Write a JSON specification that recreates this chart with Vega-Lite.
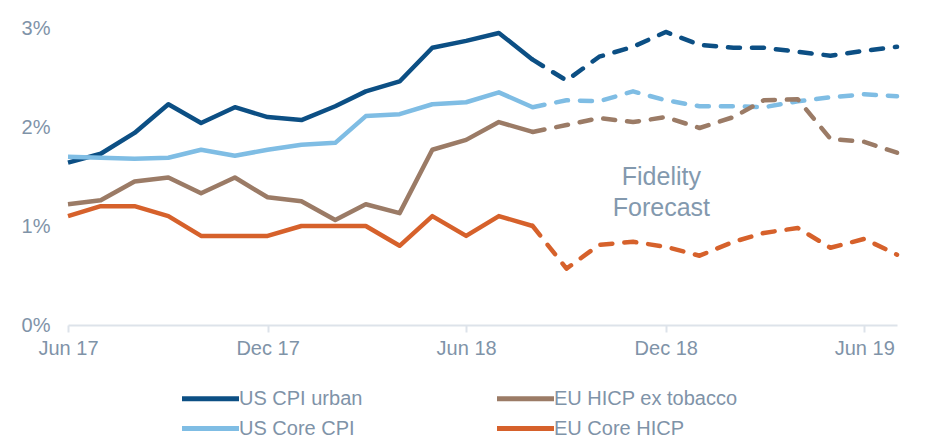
{
  "$schema": "https://vega.github.io/schema/vega-lite/v6.json",
  "width": 829,
  "height": 297,
  "autosize": {"type": "none"},
  "padding": {"left": 68, "top": 28, "right": 36, "bottom": 111},
  "background": "white",
  "config": {
    "view": {"stroke": null},
    "font": "Liberation Sans",
    "legend": {"orient": "none", "legendX": 125, "legendY": 353}
  },
  "data": {
    "values": [
      {"d": "2017/06/01", "s": "US CPI urban", "v": 1.64, "k": "A"},
      {"d": "2017/07/01", "s": "US CPI urban", "v": 1.73, "k": "A"},
      {"d": "2017/08/01", "s": "US CPI urban", "v": 1.94, "k": "A"},
      {"d": "2017/09/01", "s": "US CPI urban", "v": 2.23, "k": "A"},
      {"d": "2017/10/01", "s": "US CPI urban", "v": 2.04, "k": "A"},
      {"d": "2017/11/01", "s": "US CPI urban", "v": 2.2, "k": "A"},
      {"d": "2017/12/01", "s": "US CPI urban", "v": 2.1, "k": "A"},
      {"d": "2018/01/01", "s": "US CPI urban", "v": 2.07, "k": "A"},
      {"d": "2018/02/01", "s": "US CPI urban", "v": 2.21, "k": "A"},
      {"d": "2018/03/01", "s": "US CPI urban", "v": 2.36, "k": "A"},
      {"d": "2018/04/01", "s": "US CPI urban", "v": 2.46, "k": "A"},
      {"d": "2018/05/01", "s": "US CPI urban", "v": 2.8, "k": "A"},
      {"d": "2018/06/01", "s": "US CPI urban", "v": 2.87, "k": "A"},
      {"d": "2018/07/01", "s": "US CPI urban", "v": 2.95, "k": "A"},
      {"d": "2018/08/01", "s": "US CPI urban", "v": 2.68, "k": "A"},
      {"d": "2018/08/01", "s": "US CPI urban", "v": 2.68, "k": "F"},
      {"d": "2018/09/01", "s": "US CPI urban", "v": 2.47, "k": "F"},
      {"d": "2018/10/01", "s": "US CPI urban", "v": 2.71, "k": "F"},
      {"d": "2018/11/01", "s": "US CPI urban", "v": 2.81, "k": "F"},
      {"d": "2018/12/01", "s": "US CPI urban", "v": 2.96, "k": "F"},
      {"d": "2019/01/01", "s": "US CPI urban", "v": 2.83, "k": "F"},
      {"d": "2019/02/01", "s": "US CPI urban", "v": 2.8, "k": "F"},
      {"d": "2019/03/01", "s": "US CPI urban", "v": 2.8, "k": "F"},
      {"d": "2019/04/01", "s": "US CPI urban", "v": 2.76, "k": "F"},
      {"d": "2019/05/01", "s": "US CPI urban", "v": 2.72, "k": "F"},
      {"d": "2019/06/01", "s": "US CPI urban", "v": 2.77, "k": "F"},
      {"d": "2019/07/01", "s": "US CPI urban", "v": 2.81, "k": "F"},

      {"d": "2017/06/01", "s": "US Core CPI", "v": 1.7, "k": "A"},
      {"d": "2017/07/01", "s": "US Core CPI", "v": 1.69, "k": "A"},
      {"d": "2017/08/01", "s": "US Core CPI", "v": 1.68, "k": "A"},
      {"d": "2017/09/01", "s": "US Core CPI", "v": 1.69, "k": "A"},
      {"d": "2017/10/01", "s": "US Core CPI", "v": 1.77, "k": "A"},
      {"d": "2017/11/01", "s": "US Core CPI", "v": 1.71, "k": "A"},
      {"d": "2017/12/01", "s": "US Core CPI", "v": 1.77, "k": "A"},
      {"d": "2018/01/01", "s": "US Core CPI", "v": 1.82, "k": "A"},
      {"d": "2018/02/01", "s": "US Core CPI", "v": 1.84, "k": "A"},
      {"d": "2018/03/01", "s": "US Core CPI", "v": 2.11, "k": "A"},
      {"d": "2018/04/01", "s": "US Core CPI", "v": 2.13, "k": "A"},
      {"d": "2018/05/01", "s": "US Core CPI", "v": 2.23, "k": "A"},
      {"d": "2018/06/01", "s": "US Core CPI", "v": 2.25, "k": "A"},
      {"d": "2018/07/01", "s": "US Core CPI", "v": 2.35, "k": "A"},
      {"d": "2018/08/01", "s": "US Core CPI", "v": 2.2, "k": "A"},
      {"d": "2018/08/01", "s": "US Core CPI", "v": 2.2, "k": "F"},
      {"d": "2018/09/01", "s": "US Core CPI", "v": 2.27, "k": "F"},
      {"d": "2018/10/01", "s": "US Core CPI", "v": 2.26, "k": "F"},
      {"d": "2018/11/01", "s": "US Core CPI", "v": 2.36, "k": "F"},
      {"d": "2018/12/01", "s": "US Core CPI", "v": 2.27, "k": "F"},
      {"d": "2019/01/01", "s": "US Core CPI", "v": 2.21, "k": "F"},
      {"d": "2019/02/01", "s": "US Core CPI", "v": 2.21, "k": "F"},
      {"d": "2019/03/01", "s": "US Core CPI", "v": 2.2, "k": "F"},
      {"d": "2019/04/01", "s": "US Core CPI", "v": 2.26, "k": "F"},
      {"d": "2019/05/01", "s": "US Core CPI", "v": 2.3, "k": "F"},
      {"d": "2019/06/01", "s": "US Core CPI", "v": 2.33, "k": "F"},
      {"d": "2019/07/01", "s": "US Core CPI", "v": 2.31, "k": "F"},

      {"d": "2017/06/01", "s": "EU HICP ex tobacco", "v": 1.22, "k": "A"},
      {"d": "2017/07/01", "s": "EU HICP ex tobacco", "v": 1.26, "k": "A"},
      {"d": "2017/08/01", "s": "EU HICP ex tobacco", "v": 1.45, "k": "A"},
      {"d": "2017/09/01", "s": "EU HICP ex tobacco", "v": 1.49, "k": "A"},
      {"d": "2017/10/01", "s": "EU HICP ex tobacco", "v": 1.33, "k": "A"},
      {"d": "2017/11/01", "s": "EU HICP ex tobacco", "v": 1.49, "k": "A"},
      {"d": "2017/12/01", "s": "EU HICP ex tobacco", "v": 1.29, "k": "A"},
      {"d": "2018/01/01", "s": "EU HICP ex tobacco", "v": 1.25, "k": "A"},
      {"d": "2018/02/01", "s": "EU HICP ex tobacco", "v": 1.06, "k": "A"},
      {"d": "2018/03/01", "s": "EU HICP ex tobacco", "v": 1.22, "k": "A"},
      {"d": "2018/04/01", "s": "EU HICP ex tobacco", "v": 1.13, "k": "A"},
      {"d": "2018/05/01", "s": "EU HICP ex tobacco", "v": 1.77, "k": "A"},
      {"d": "2018/06/01", "s": "EU HICP ex tobacco", "v": 1.87, "k": "A"},
      {"d": "2018/07/01", "s": "EU HICP ex tobacco", "v": 2.05, "k": "A"},
      {"d": "2018/08/01", "s": "EU HICP ex tobacco", "v": 1.95, "k": "A"},
      {"d": "2018/08/01", "s": "EU HICP ex tobacco", "v": 1.95, "k": "F"},
      {"d": "2018/09/01", "s": "EU HICP ex tobacco", "v": 2.02, "k": "F"},
      {"d": "2018/10/01", "s": "EU HICP ex tobacco", "v": 2.09, "k": "F"},
      {"d": "2018/11/01", "s": "EU HICP ex tobacco", "v": 2.05, "k": "F"},
      {"d": "2018/12/01", "s": "EU HICP ex tobacco", "v": 2.1, "k": "F"},
      {"d": "2019/01/01", "s": "EU HICP ex tobacco", "v": 1.99, "k": "F"},
      {"d": "2019/02/01", "s": "EU HICP ex tobacco", "v": 2.1, "k": "F"},
      {"d": "2019/03/01", "s": "EU HICP ex tobacco", "v": 2.27, "k": "F"},
      {"d": "2019/04/01", "s": "EU HICP ex tobacco", "v": 2.28, "k": "F"},
      {"d": "2019/05/01", "s": "EU HICP ex tobacco", "v": 1.88, "k": "F"},
      {"d": "2019/06/01", "s": "EU HICP ex tobacco", "v": 1.85, "k": "F"},
      {"d": "2019/07/01", "s": "EU HICP ex tobacco", "v": 1.74, "k": "F"},

      {"d": "2017/06/01", "s": "EU Core HICP", "v": 1.1, "k": "A"},
      {"d": "2017/07/01", "s": "EU Core HICP", "v": 1.2, "k": "A"},
      {"d": "2017/08/01", "s": "EU Core HICP", "v": 1.2, "k": "A"},
      {"d": "2017/09/01", "s": "EU Core HICP", "v": 1.1, "k": "A"},
      {"d": "2017/10/01", "s": "EU Core HICP", "v": 0.9, "k": "A"},
      {"d": "2017/11/01", "s": "EU Core HICP", "v": 0.9, "k": "A"},
      {"d": "2017/12/01", "s": "EU Core HICP", "v": 0.9, "k": "A"},
      {"d": "2018/01/01", "s": "EU Core HICP", "v": 1.0, "k": "A"},
      {"d": "2018/02/01", "s": "EU Core HICP", "v": 1.0, "k": "A"},
      {"d": "2018/03/01", "s": "EU Core HICP", "v": 1.0, "k": "A"},
      {"d": "2018/04/01", "s": "EU Core HICP", "v": 0.8, "k": "A"},
      {"d": "2018/05/01", "s": "EU Core HICP", "v": 1.1, "k": "A"},
      {"d": "2018/06/01", "s": "EU Core HICP", "v": 0.9, "k": "A"},
      {"d": "2018/07/01", "s": "EU Core HICP", "v": 1.1, "k": "A"},
      {"d": "2018/08/01", "s": "EU Core HICP", "v": 1.0, "k": "A"},
      {"d": "2018/08/01", "s": "EU Core HICP", "v": 1.0, "k": "F"},
      {"d": "2018/09/01", "s": "EU Core HICP", "v": 0.57, "k": "F"},
      {"d": "2018/10/01", "s": "EU Core HICP", "v": 0.81, "k": "F"},
      {"d": "2018/11/01", "s": "EU Core HICP", "v": 0.84, "k": "F"},
      {"d": "2018/12/01", "s": "EU Core HICP", "v": 0.79, "k": "F"},
      {"d": "2019/01/01", "s": "EU Core HICP", "v": 0.7, "k": "F"},
      {"d": "2019/02/01", "s": "EU Core HICP", "v": 0.84, "k": "F"},
      {"d": "2019/03/01", "s": "EU Core HICP", "v": 0.93, "k": "F"},
      {"d": "2019/04/01", "s": "EU Core HICP", "v": 0.98, "k": "F"},
      {"d": "2019/05/01", "s": "EU Core HICP", "v": 0.78, "k": "F"},
      {"d": "2019/06/01", "s": "EU Core HICP", "v": 0.87, "k": "F"},
      {"d": "2019/07/01", "s": "EU Core HICP", "v": 0.71, "k": "F"}
    ]
  },
  "layer": [
    {
      "transform": [{"filter": "datum.k == 'A'"}],
      "mark": {"type": "line", "strokeWidth": 4.5, "strokeJoin": "round", "strokeCap": "butt"},
      "encoding": {
        "x": {
          "field": "d",
          "type": "temporal",
          "scale": {"domain": [{"year": 2017, "month": "jun", "date": 1}, {"year": 2019, "month": "jul", "date": 1}]},
          "axis": {
            "title": null,
            "values": [
              {"year": 2017, "month": "jun", "date": 1},
              {"year": 2017, "month": "dec", "date": 1},
              {"year": 2018, "month": "jun", "date": 1},
              {"year": 2018, "month": "dec", "date": 1},
              {"year": 2019, "month": "jun", "date": 1}
            ],
            "format": "%b %y",
            "labelFontSize": 20,
            "labelColor": "#7f93a8",
            "labelFont": "Liberation Sans",
            "labelPadding": 6,
            "labelFlush": false,
            "labelOverlap": false,
            "domainColor": "#dde3ea",
            "domainWidth": 2,
            "tickColor": "#dde3ea",
            "tickWidth": 2,
            "tickSize": 7,
            "grid": false
          }
        },
        "y": {
          "field": "v",
          "type": "quantitative",
          "scale": {"domain": [0, 3], "nice": false},
          "axis": {
            "title": null,
            "values": [0, 1, 2, 3],
            "labelExpr": "datum.value + '%'",
            "labelFontSize": 20,
            "labelColor": "#7f93a8",
            "labelFont": "Liberation Sans",
            "labelPadding": 18,
            "domain": false,
            "ticks": false,
            "tickSize": 0,
            "grid": false
          }
        },
        "color": {
          "field": "s",
          "type": "nominal",
          "scale": {
            "domain": ["US CPI urban", "US Core CPI", "EU HICP ex tobacco", "EU Core HICP"],
            "range": ["#0c4f84", "#7fbde4", "#9b7b66", "#d6612b"]
          },
          "legend": {
            "title": null,
            "columns": 2,
            "symbolType": "M-1.9,0H1.9",
            "symbolSize": 900,
            "symbolStrokeWidth": 5,
            "labelFontSize": 20,
            "labelFont": "Liberation Sans",
            "labelColor": "#7f93a8",
            "labelOffset": 11,
            "labelLimit": 400,
            "columnPadding": 124,
            "rowPadding": 2,
            "padding": 0
          }
        },
        "detail": {"field": "s"}
      }
    },
    {
      "transform": [{"filter": "datum.k == 'F'"}],
      "mark": {"type": "line", "strokeWidth": 4.5, "strokeJoin": "round", "strokeCap": "round", "strokeDash": [12, 12]},
      "encoding": {
        "x": {"field": "d", "type": "temporal"},
        "y": {"field": "v", "type": "quantitative"},
        "color": {"field": "s", "type": "nominal"},
        "detail": {"field": "s"}
      }
    },
    {
      "data": {"values": [{"note": "forecast"}]},
      "mark": {
        "type": "text",
        "text": ["Fidelity", "Forecast"],
        "fontSize": 25,
        "font": "Liberation Sans",
        "color": "#8399ae",
        "align": "center",
        "baseline": "middle",
        "lineHeight": 31
      },
      "encoding": {
        "x": {"datum": {"year": 2018, "month": "nov", "date": 27}, "type": "temporal"},
        "y": {"datum": 1.49, "type": "quantitative"}
      }
    }
  ]
}
